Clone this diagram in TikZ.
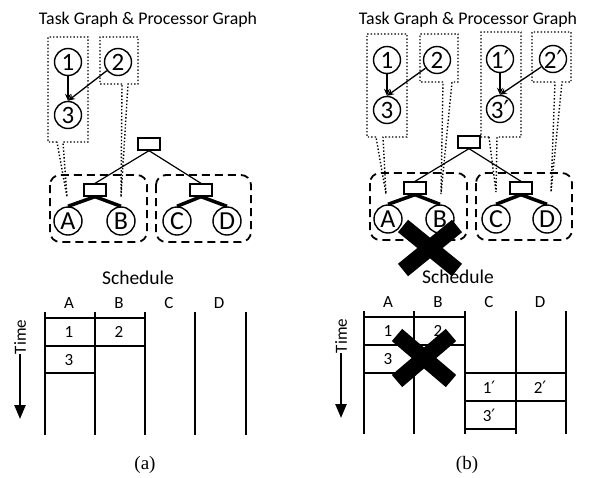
\documentclass[tikz,border=0pt]{standalone}
\usepackage{fontspec}
\setmainfont{Carlito}
\newfontfamily\capfont{Liberation Serif}
\newfontfamily\primefont{DejaVu Sans}
\usetikzlibrary{arrows.meta,positioning}

\newcommand{\pr}{{\primefont\char"2032}}
% dotted callout: x0 x1 ytop ybot footl footr (tip)
\newcommand{\tasktip}[7]{%
  \draw[calloutline] (#5,#4) -- (#1,#4) -- (#1,#3) -- (#2,#3) -- (#2,#4) -- (#6,#4) -- #7 -- cycle;}

\begin{document}
\begin{tikzpicture}[x=1pt, y=-1pt,
    task/.style={draw, circle, line width=1.4pt, minimum size=27pt, inner sep=0pt, font=\fontsize{25}{25}\selectfont},
    proc/.style={draw, circle, line width=1.4pt, minimum size=28pt, inner sep=0pt, font=\fontsize{26}{26}\selectfont},
    switchbox/.style={draw, line width=1.3pt, minimum width=22pt, minimum height=12pt, inner sep=0pt},
    link/.style={line width=1.2pt},
    wire/.style={line width=3.5pt},
    dep/.style={-{Stealth[length=7pt,width=6pt]}, line width=1.3pt},
    calloutline/.style={dotted, line width=1.4pt},
    cluster/.style={line width=1.8pt, rounded corners=10pt, dash pattern=on 8pt off 5pt},
    lane/.style={line width=2.2pt},
    slot/.style={line width=1.8pt},
    cell/.style={font=\fontsize{17}{17}\selectfont},
    heading/.style={font=\fontsize{17.8}{17.8}\selectfont},
    schedhead/.style={font=\fontsize{19.5}{19.5}\selectfont},
    timearrow/.style={-{Triangle[length=14pt,width=11pt]}, line width=2.5pt},
    cross/.style={line width=16pt},
    caption/.style={font=\capfont\fontsize{19}{19}\selectfont},
]
\useasboundingbox (0,0) rectangle (592,477);

% ===== (a) =====
\node[heading] (atitle) at (148,20) {Task Graph \& Processor Graph};

% task graph
\node[task] (a1) at (68,62) {1};
\node[task] (a2) at (118,62) {2};
\node[task] (a3) at (68,115) {3};
\draw[dep] (a1) -- (a3);
\draw[dep] (a2) -- (a3.north);

% processor graph
\node[switchbox] (aroot) at (149,144) {};
\node[switchbox] (asw1) at (95,190) {};
\node[switchbox] (asw2) at (201,190) {};
\node[proc] (aA) at (68,221) {A};
\node[proc] (aB) at (121,221) {B};
\node[proc] (aC) at (177,221) {C};
\node[proc] (aD) at (227,221) {D};
\draw[link] (aroot.south) -- (asw1.north);
\draw[link] (aroot.south) -- (asw2.north);
\draw[wire] (asw1.south) -- (aA.north);
\draw[wire] (asw1.south) -- (aB.north);
\draw[wire] (asw2.south) -- (aC.north);
\draw[wire] (asw2.south) -- (aD.north);
\draw[cluster] (50,175) rectangle (147,242);
\draw[cluster] (156,175) rectangle (251,242);

% mapping
\coordinate (atip1) at (67,197);
\coordinate (atip2) at (121,197);
\tasktip{48}{88}{37}{142}{57}{63}{(atip1)}
\tasktip{100}{138}{37}{84}{122}{128}{(atip2)}

% schedule
\node[schedhead] (asched) at (138,278) {Schedule};
\foreach \c/\x in {A/69, B/119, C/169, D/219}
  \node[cell] (acol\c) at (\x,303) {\c};
\foreach \x in {45,95,145,195,246}
  \draw[lane] (\x,312) -- (\x,435);
\draw[slot] (45,318) -- (145,318);
\draw[slot] (45,346) -- (145,346);
\draw[slot] (45,373) -- (95,373);
\node[cell] (as1) at (69,332) {1};
\node[cell] (as2) at (119,332) {2};
\node[cell] (as3) at (69,360) {3};
\node[cell, rotate=90, inner sep=0pt] (atime) at (20,337) {Time};
\coordinate (atimeend) at (20,419);
\draw[timearrow] (atime.west) -- (atimeend);
\node[caption] (acap) at (145,465) {(a)};

% ===== (b) =====
\node[heading] (btitle) at (468,20) {Task Graph \& Processor Graph};

% task graph
\node[task] (b1) at (387,60) {1};
\node[task] (b2) at (437,60) {2};
\node[task] (b3) at (387,110) {3};
\node[task] (b1p) at (500,59) {1\pr};
\node[task] (b2p) at (553,59) {2\pr};
\node[task] (b3p) at (500,109) {3\pr};
\draw[dep] (b1) -- (b3);
\draw[dep] (b2) -- (b3.north);
\draw[dep] (b1p) -- (b3p);
\draw[dep] (b2p) -- (b3p.north);

% processor graph
\node[switchbox] (broot) at (469,142) {};
\node[switchbox] (bsw1) at (415,188) {};
\node[switchbox] (bsw2) at (521,188) {};
\node[proc] (bA) at (388,219) {A};
\node[proc] (bB) at (440,219) {B};
\node[proc] (bC) at (496,219) {C};
\node[proc] (bD) at (547,219) {D};
\draw[link] (broot.south) -- (bsw1.north);
\draw[link] (broot.south) -- (bsw2.north);
\draw[wire] (bsw1.south) -- (bA.north);
\draw[wire] (bsw1.south) -- (bB.north);
\draw[wire] (bsw2.south) -- (bC.north);
\draw[wire] (bsw2.south) -- (bD.north);
\draw[cluster] (370,173) rectangle (467,240);
\draw[cluster] (476,173) rectangle (572,240);

% mapping
\coordinate (btip1) at (386,194);
\coordinate (btip2) at (441,194);
\coordinate (btip1p) at (496,192);
\coordinate (btip2p) at (551,192);
\tasktip{367}{407}{34}{137}{376}{383}{(btip1)}
\tasktip{420}{458}{34}{82}{443}{452}{(btip2)}
\tasktip{481}{521}{32}{137}{489}{497}{(btip1p)}
\tasktip{532}{571}{32}{82}{555}{562}{(btip2p)}

% failed processor
\draw[cross] (403,226) -- (457,270);
\draw[cross] (403,270) -- (457,226);

% schedule
\node[schedhead] (bsched) at (458,277) {Schedule};
\foreach \c/\x in {A/388, B/438, C/489, D/540}
  \node[cell] (bcol\c) at (\x,302) {\c};
\foreach \x in {364,414,465,516,566}
  \draw[lane] (\x,311) -- (\x,434);
\draw[slot] (364,317) -- (465,317);
\draw[slot] (364,345) -- (465,345);
\draw[slot] (364,373) -- (414,373);
\draw[slot] (465,373) -- (566,373);
\draw[slot] (465,401) -- (566,401);
\draw[slot] (465,429) -- (516,429);
\node[cell] (bs1) at (388,331) {1};
\node[cell] (bs2) at (438,331) {2};
\node[cell] (bs3) at (388,359) {3};
\node[cell] (bs1p) at (489,387) {1\pr};
\node[cell] (bs2p) at (540,387) {2\pr};
\node[cell] (bs3p) at (489,415) {3\pr};
\draw[cross] (397,335) -- (451,381);
\draw[cross] (397,381) -- (451,335);
\node[cell, rotate=90, inner sep=0pt] (btime) at (341,336) {Time};
\coordinate (btimeend) at (341,418);
\draw[timearrow] (btime.west) -- (btimeend);
\node[caption] (bcap) at (467,465) {(b)};
\end{tikzpicture}
\end{document}
